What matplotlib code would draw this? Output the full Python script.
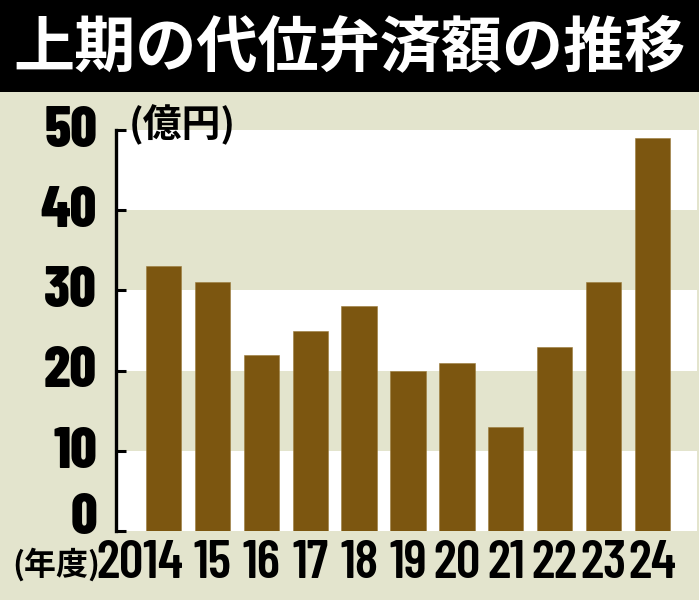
import matplotlib
matplotlib.use("Agg")
import matplotlib.pyplot as plt
from matplotlib.patches import Rectangle

# ---- data ----
years = ["2014", "15", "16", "17", "18", "19", "20", "21", "22", "23", "24"]
values = [33, 31, 22, 25, 28, 20, 21, 13, 23, 31, 49]
yticks = [0, 10, 20, 30, 40, 50]
title = "上期の代位弁済額の推移"
unit_label = "(億円)"
xunit_label = "(年度)"

# ---- style ----
BEIGE = "#E3E4CD"
BROWN = "#7C5610"
CJK = ["Noto Sans CJK JP", "DejaVu Sans"]
NUM = ["Barlow Condensed", "Liberation Sans", "DejaVu Sans"]

W, H = 699, 600
fig = plt.figure(figsize=(W / 100, H / 100), dpi=100, facecolor=BEIGE)

# title bar
fig.patches.append(Rectangle((0, 1 - 92 / H), 1, 92 / H, transform=fig.transFigure,
                             facecolor="black", edgecolor="none", zorder=0))
fig.text(0.5, 1 - 48 / H, title, ha="center", va="center", color="white",
         fontsize=44, fontweight="bold", family=CJK)

# axes
x0, x1 = 116, 697
y0, y1 = 531, 92
ax = fig.add_axes([x0 / W, 1 - y0 / H, (x1 - x0) / W, (y0 - y1) / H])
ax.set_facecolor(BEIGE)
px_per_unit = (531 - 130) / 50.0
ax.set_ylim(0, (y0 - y1) / px_per_unit)
step = 48.9
ax.set_xlim(-(163.5 - x0) / step, (x1 - 163.5) / step)

# alternating bands
for lo in range(0, 50, 20):
    ax.axhspan(lo, lo + 10, facecolor="white", edgecolor="none", zorder=0)

xs = list(range(len(years)))
ax.bar(xs, values, width=0.72, color=BROWN, edgecolor="#9A7A3A", linewidth=0.4, zorder=2)

for s in ["top", "right", "bottom"]:
    ax.spines[s].set_visible(False)
ax.spines["left"].set_bounds(0, 50)
ax.spines["left"].set_linewidth(2.4)
ax.spines["left"].set_zorder(3)
ax.set_xticks([])
ax.set_yticks(yticks)
ax.set_yticklabels([])
ax.tick_params(axis="y", direction="in", length=7.5, width=2.2, color="black")

# y labels
lab_x = (97 - 163.5) / step
for v in yticks:
    yb = v - 2.1 if v > 0 else -0.35
    ax.text(lab_x, yb, str(v), ha="right", va="baseline", fontsize=42,
            fontweight=800, family=NUM, clip_on=False)

# x labels
base = -(578 - 531) / px_per_unit
for i, lab in enumerate(years):
    if i == 0:
        ax.text(i + 0.40, base, lab, ha="right", va="baseline", fontsize=39,
                fontweight="semibold", family=NUM, clip_on=False)
    else:
        ax.text(i, base, lab, ha="center", va="baseline", fontsize=39,
                fontweight="semibold", family=NUM, clip_on=False)

ax.text((100 - 163.5) / step, -(575 - 531) / px_per_unit, xunit_label, ha="right",
        va="baseline", fontsize=23, fontweight="bold", family=CJK, clip_on=False)
ax.text((129 - 163.5) / step, 50.6, unit_label, ha="left", va="center",
        fontsize=28, fontweight="bold", family=CJK, clip_on=False)

fig.savefig("out.png", dpi=100, facecolor=BEIGE)
